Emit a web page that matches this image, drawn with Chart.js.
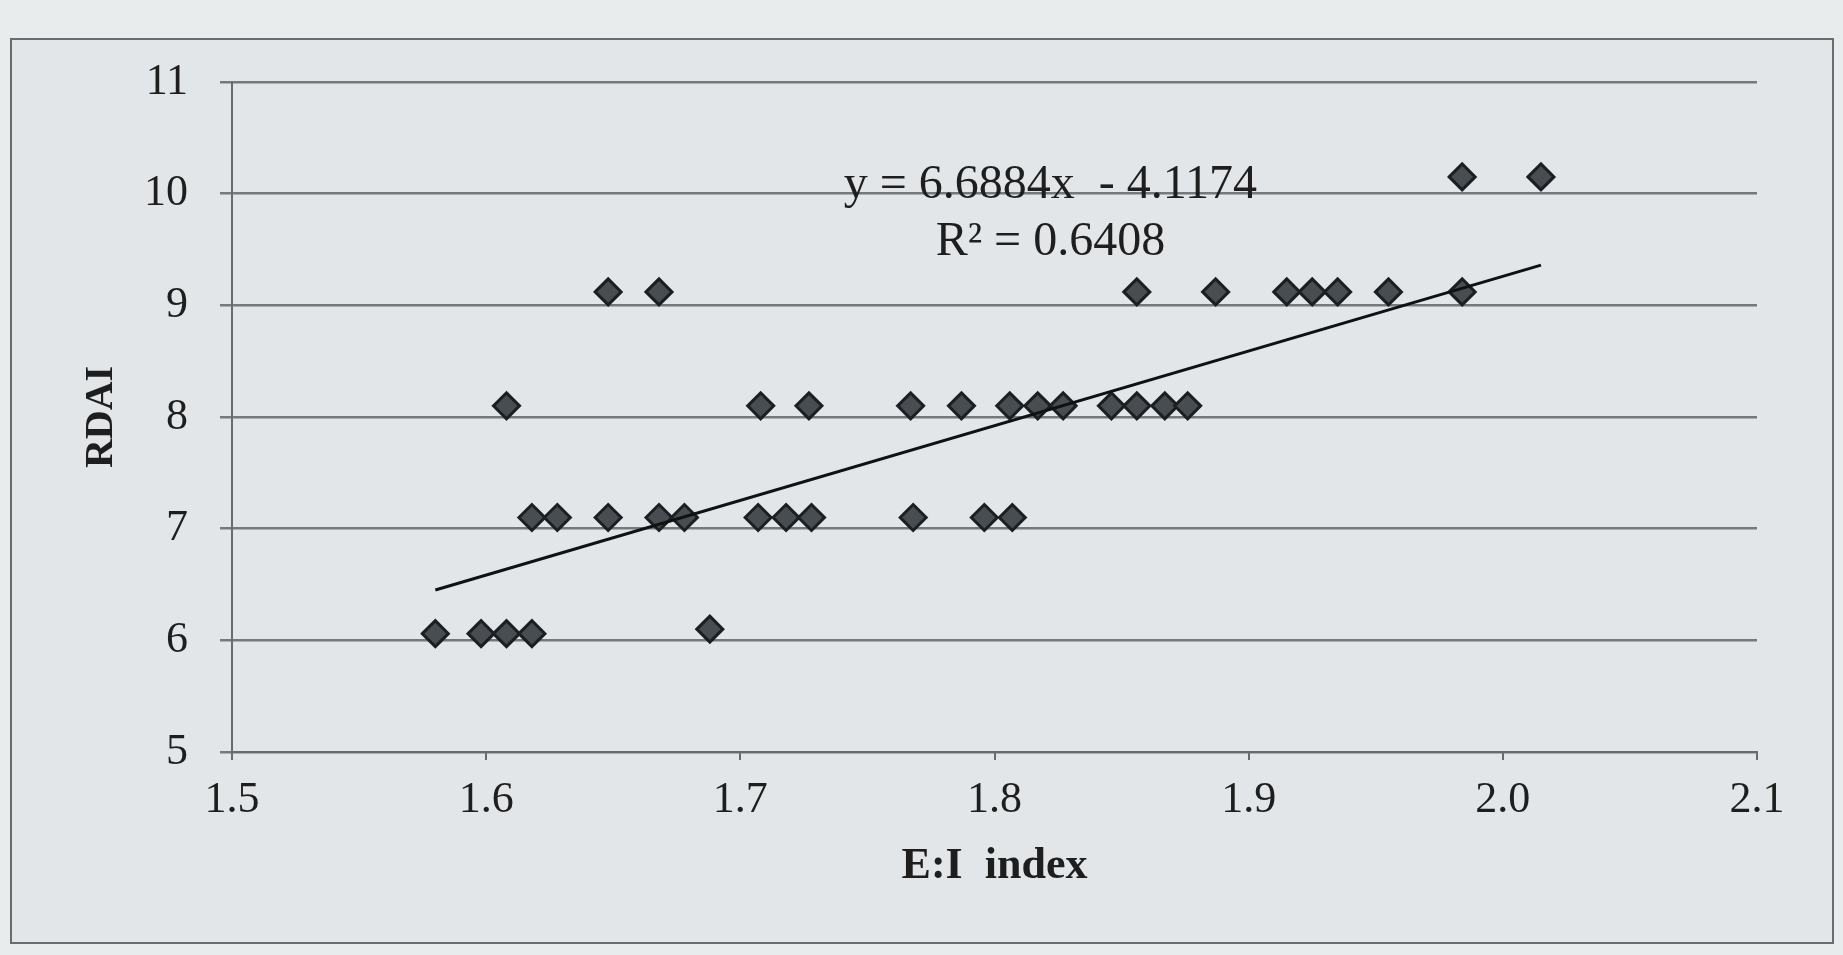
<!DOCTYPE html>
<html>
<head>
<meta charset="utf-8">
<script src="https://cdn.jsdelivr.net/npm/chart.js@4/dist/chart.umd.min.js"></script>
<style>
  html, body { margin: 0; padding: 0; background: #e9ecec; }
  #wrap { position: relative; width: 1843px; height: 955px; }
  #frame { position: absolute; left: 10px; top: 38px; width: 1820px; height: 902px;
           border: 2px solid #6a6d70; background: #e2e6e8; }
  canvas { position: absolute; left: 0; top: 0; }
</style>
</head>
<body>
<div id="wrap">
  <div id="frame"></div>
  <canvas id="grafico" width="1843" height="955"></canvas>
</div>
<script>
// E:I index (x) e RDAI (y)
const eiIndex = [
  1.580, 1.598, 1.608, 1.618, 1.688,
  1.618, 1.628, 1.648, 1.668, 1.678, 1.707, 1.718, 1.728, 1.768, 1.796, 1.807,
  1.608, 1.708, 1.727, 1.767, 1.787, 1.806, 1.817, 1.827, 1.846, 1.856, 1.867, 1.876,
  1.648, 1.668, 1.856, 1.887, 1.915, 1.925, 1.935, 1.955, 1.984,
  1.984, 2.015
];
const rdai = [
  6.06, 6.06, 6.06, 6.06, 6.1,
  7.1, 7.1, 7.1, 7.1, 7.1, 7.1, 7.1, 7.1, 7.1, 7.1, 7.1,
  8.1, 8.1, 8.1, 8.1, 8.1, 8.1, 8.1, 8.1, 8.1, 8.1, 8.1, 8.1,
  9.12, 9.12, 9.12, 9.12, 9.12, 9.12, 9.12, 9.12, 9.12,
  10.15, 10.15
];
const xTicks = [1.5, 1.6, 1.7, 1.8, 1.9, 2.0, 2.1];
const yTicks = [5, 6, 7, 8, 9, 10, 11];

// linha de tendencia (Excel): y = 6.6884x - 4.1174
const inclinacao = 6.6884;
const intercepto = -4.1174;
const tendenciaX = [1.58, 2.015];
const textoEquacao = "y = 6.6884x  - 4.1174";
const textoR2 = "R\u00b2 = 0.6408";

const pontos = eiIndex.map((x, i) => ({ x: x, y: rdai[i] }));
const tendencia = tendenciaX.map(x => ({ x: x, y: inclinacao * x + intercepto }));

const fonte = "'Liberation Serif', 'Times New Roman', serif";

const rotuloEquacao = {
  id: 'rotuloEquacao',
  afterDatasetsDraw(chart) {
    const ctx = chart.ctx;
    const sx = chart.scales.x, sy = chart.scales.y;
    ctx.save();
    ctx.fillStyle = '#1e1e1e';
    ctx.font = "48px " + fonte;
    ctx.textAlign = 'center';
    ctx.textBaseline = 'middle';
    ctx.fillText(textoEquacao, sx.getPixelForValue(1.822), sy.getPixelForValue(10.07));
    ctx.fillText(textoR2, sx.getPixelForValue(1.822), sy.getPixelForValue(9.56));
    ctx.restore();
  }
};

new Chart(document.getElementById('grafico'), {
  type: 'scatter',
  data: {
    datasets: [
      {
        label: 'RDAI',
        data: pontos,
        pointStyle: 'rectRot',
        pointRadius: 13,
        pointBackgroundColor: '#484d52',
        pointBorderColor: '#1c1f22',
        pointBorderWidth: 3,
        order: 2
      },
      {
        label: 'Linear',
        data: tendencia,
        type: 'line',
        showLine: true,
        borderColor: '#111111',
        borderWidth: 3,
        pointRadius: 0,
        fill: false,
        order: 1
      }
    ]
  },
  options: {
    responsive: false,
    animation: false,
    layout: { padding: { left: 0, right: 86, top: 82, bottom: 0 } },
    plugins: { legend: { display: false }, tooltip: { enabled: false } },
    scales: {
      x: {
        type: 'linear',
        min: 1.5,
        max: 2.1,
        afterBuildTicks: scale => { scale.ticks = xTicks.map(v => ({ value: v })); },
        afterFit: scale => { scale.height = 203; },
        border: { display: true, color: '#6b6b6b', width: 2 },
        grid: { drawOnChartArea: false, drawTicks: true, tickLength: 8, color: '#6b6b6b', lineWidth: 2 },
        ticks: {
          padding: 14,
          color: '#1e1e1e',
          font: { family: fonte, size: 44 },
          callback: v => v.toFixed(1)
        },
        title: {
          display: true,
          text: 'E:I  index',
          color: '#1e1e1e',
          font: { family: fonte, size: 44, weight: 'bold' },
          padding: { top: 0, bottom: 62 }
        }
      },
      y: {
        type: 'linear',
        min: 5,
        max: 11,
        afterBuildTicks: scale => { scale.ticks = yTicks.map(v => ({ value: v })); },
        afterFit: scale => { scale.width = 232; },
        border: { display: true, color: '#6b6b6b', width: 2 },
        grid: { color: '#76797b', lineWidth: 2.5, tickLength: 12 },
        ticks: {
          padding: 32,
          color: '#1e1e1e',
          font: { family: fonte, size: 44 }
        },
        title: {
          display: true,
          text: 'RDAI',
          color: '#1e1e1e',
          font: { family: fonte, size: 40, weight: 'bold' },
          padding: { top: 78, bottom: 0 }
        }
      }
    }
  },
  plugins: [rotuloEquacao]
});
</script>
</body>
</html>
